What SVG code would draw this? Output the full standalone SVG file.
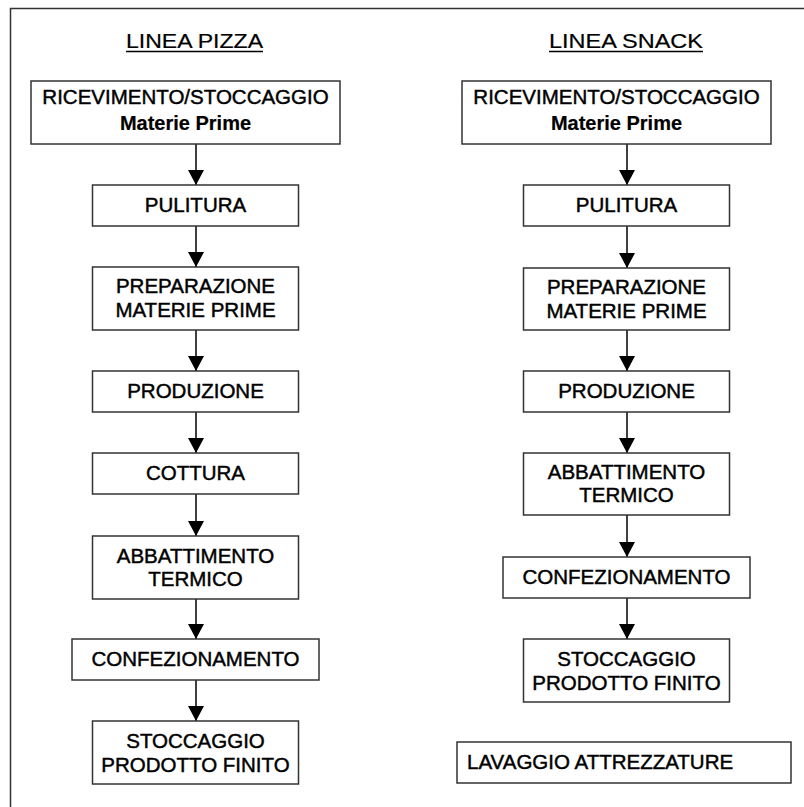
<svg xmlns="http://www.w3.org/2000/svg" width="804" height="807" viewBox="0 0 804 807">
<style>
.box{fill:#fff;stroke:#333;stroke-width:1.5}
.t{font-family:"Liberation Sans",Arial,sans-serif;font-size:20.5px;fill:#000;stroke:#000;stroke-width:0.45;text-anchor:middle}
.b{font-weight:bold;font-size:20px;stroke-width:0.2}
.h{font-family:"Liberation Sans",Arial,sans-serif;font-size:21px;fill:#000;stroke:#000;stroke-width:0.2;text-anchor:middle}
.c line{stroke:#000;stroke-width:1.5;marker-end:url(#ah)}
</style>
<defs>
<marker id="ah" markerUnits="userSpaceOnUse" markerWidth="15" markerHeight="16" refX="15" refY="8" orient="auto">
<path d="M0,0 L15,8 L0,16 z" fill="#000"/>
</marker>
</defs>
<rect x="0" y="0" width="804" height="807" fill="#fff"/>
<rect x="10.5" y="8.5" width="800" height="805" fill="none" stroke="#333" stroke-width="1.5"/>
<g id="titles">
<text class="h" x="194.5" y="48" textLength="137" lengthAdjust="spacingAndGlyphs">LINEA PIZZA</text>
<line x1="126" y1="51.5" x2="263" y2="51.5" stroke="#000" stroke-width="1.5"/>
<text class="h" x="626" y="48" textLength="154" lengthAdjust="spacingAndGlyphs">LINEA SNACK</text>
<line x1="549" y1="51.5" x2="703" y2="51.5" stroke="#000" stroke-width="1.5"/>
</g>
<g class="c" id="connectors">
<line x1="196" y1="144" x2="196" y2="185"/>
<line x1="196" y1="226" x2="196" y2="267"/>
<line x1="196" y1="330" x2="196" y2="371"/>
<line x1="196" y1="412" x2="196" y2="453"/>
<line x1="196" y1="494" x2="196" y2="536"/>
<line x1="196" y1="599" x2="196" y2="639"/>
<line x1="196" y1="680" x2="196" y2="721"/>
<line x1="627" y1="144" x2="627" y2="185"/>
<line x1="627" y1="226" x2="627" y2="268"/>
<line x1="627" y1="330" x2="627" y2="371"/>
<line x1="627" y1="412" x2="627" y2="453"/>
<line x1="627" y1="515" x2="627" y2="557"/>
<line x1="627" y1="598" x2="627" y2="639"/>
</g>
<g id="p1"><rect class="box" x="31" y="81" width="309" height="63"/><text class="t" x="185.5" y="104">RICEVIMENTO/STOCCAGGIO</text><text class="t b" x="185.5" y="130">Materie Prime</text></g>
<g id="p2"><rect class="box" x="92.5" y="185" width="206" height="41"/><text class="t" x="195.5" y="212">PULITURA</text></g>
<g id="p3"><rect class="box" x="92.5" y="267" width="206" height="63"/><text class="t" x="195.5" y="293">PREPARAZIONE</text><text class="t" x="195.5" y="317">MATERIE PRIME</text></g>
<g id="p4"><rect class="box" x="92.5" y="371" width="206" height="41"/><text class="t" x="195.5" y="398">PRODUZIONE</text></g>
<g id="p5"><rect class="box" x="92.5" y="453" width="206" height="41"/><text class="t" x="195.5" y="480">COTTURA</text></g>
<g id="p6"><rect class="box" x="92.5" y="536" width="206" height="63"/><text class="t" x="195.5" y="563">ABBATTIMENTO</text><text class="t" x="195.5" y="586">TERMICO</text></g>
<g id="p7"><rect class="box" x="72" y="639" width="247" height="41"/><text class="t" x="195.5" y="666">CONFEZIONAMENTO</text></g>
<g id="p8"><rect class="box" x="92.5" y="721" width="206" height="63"/><text class="t" x="195.5" y="748">STOCCAGGIO</text><text class="t" x="195.5" y="772">PRODOTTO FINITO</text></g>
<g id="s1"><rect class="box" x="462" y="81" width="309" height="63"/><text class="t" x="616.5" y="104">RICEVIMENTO/STOCCAGGIO</text><text class="t b" x="616.5" y="130">Materie Prime</text></g>
<g id="s2"><rect class="box" x="523.5" y="185" width="206" height="41"/><text class="t" x="626.5" y="212">PULITURA</text></g>
<g id="s3"><rect class="box" x="523.5" y="268" width="206" height="62"/><text class="t" x="626.5" y="294">PREPARAZIONE</text><text class="t" x="626.5" y="318">MATERIE PRIME</text></g>
<g id="s4"><rect class="box" x="523.5" y="371" width="206" height="41"/><text class="t" x="626.5" y="398">PRODUZIONE</text></g>
<g id="s5"><rect class="box" x="523.5" y="453" width="206" height="62"/><text class="t" x="626.5" y="479">ABBATTIMENTO</text><text class="t" x="626.5" y="502">TERMICO</text></g>
<g id="s6"><rect class="box" x="503" y="557" width="247" height="41"/><text class="t" x="626.5" y="584">CONFEZIONAMENTO</text></g>
<g id="s7"><rect class="box" x="523.5" y="639" width="206" height="63"/><text class="t" x="626.5" y="666">STOCCAGGIO</text><text class="t" x="626.5" y="690">PRODOTTO FINITO</text></g>
<g id="s8"><rect class="box" x="457" y="742" width="334" height="41"/><text class="t" x="467" y="769" style="text-anchor:start">LAVAGGIO ATTREZZATURE</text></g>
</svg>
